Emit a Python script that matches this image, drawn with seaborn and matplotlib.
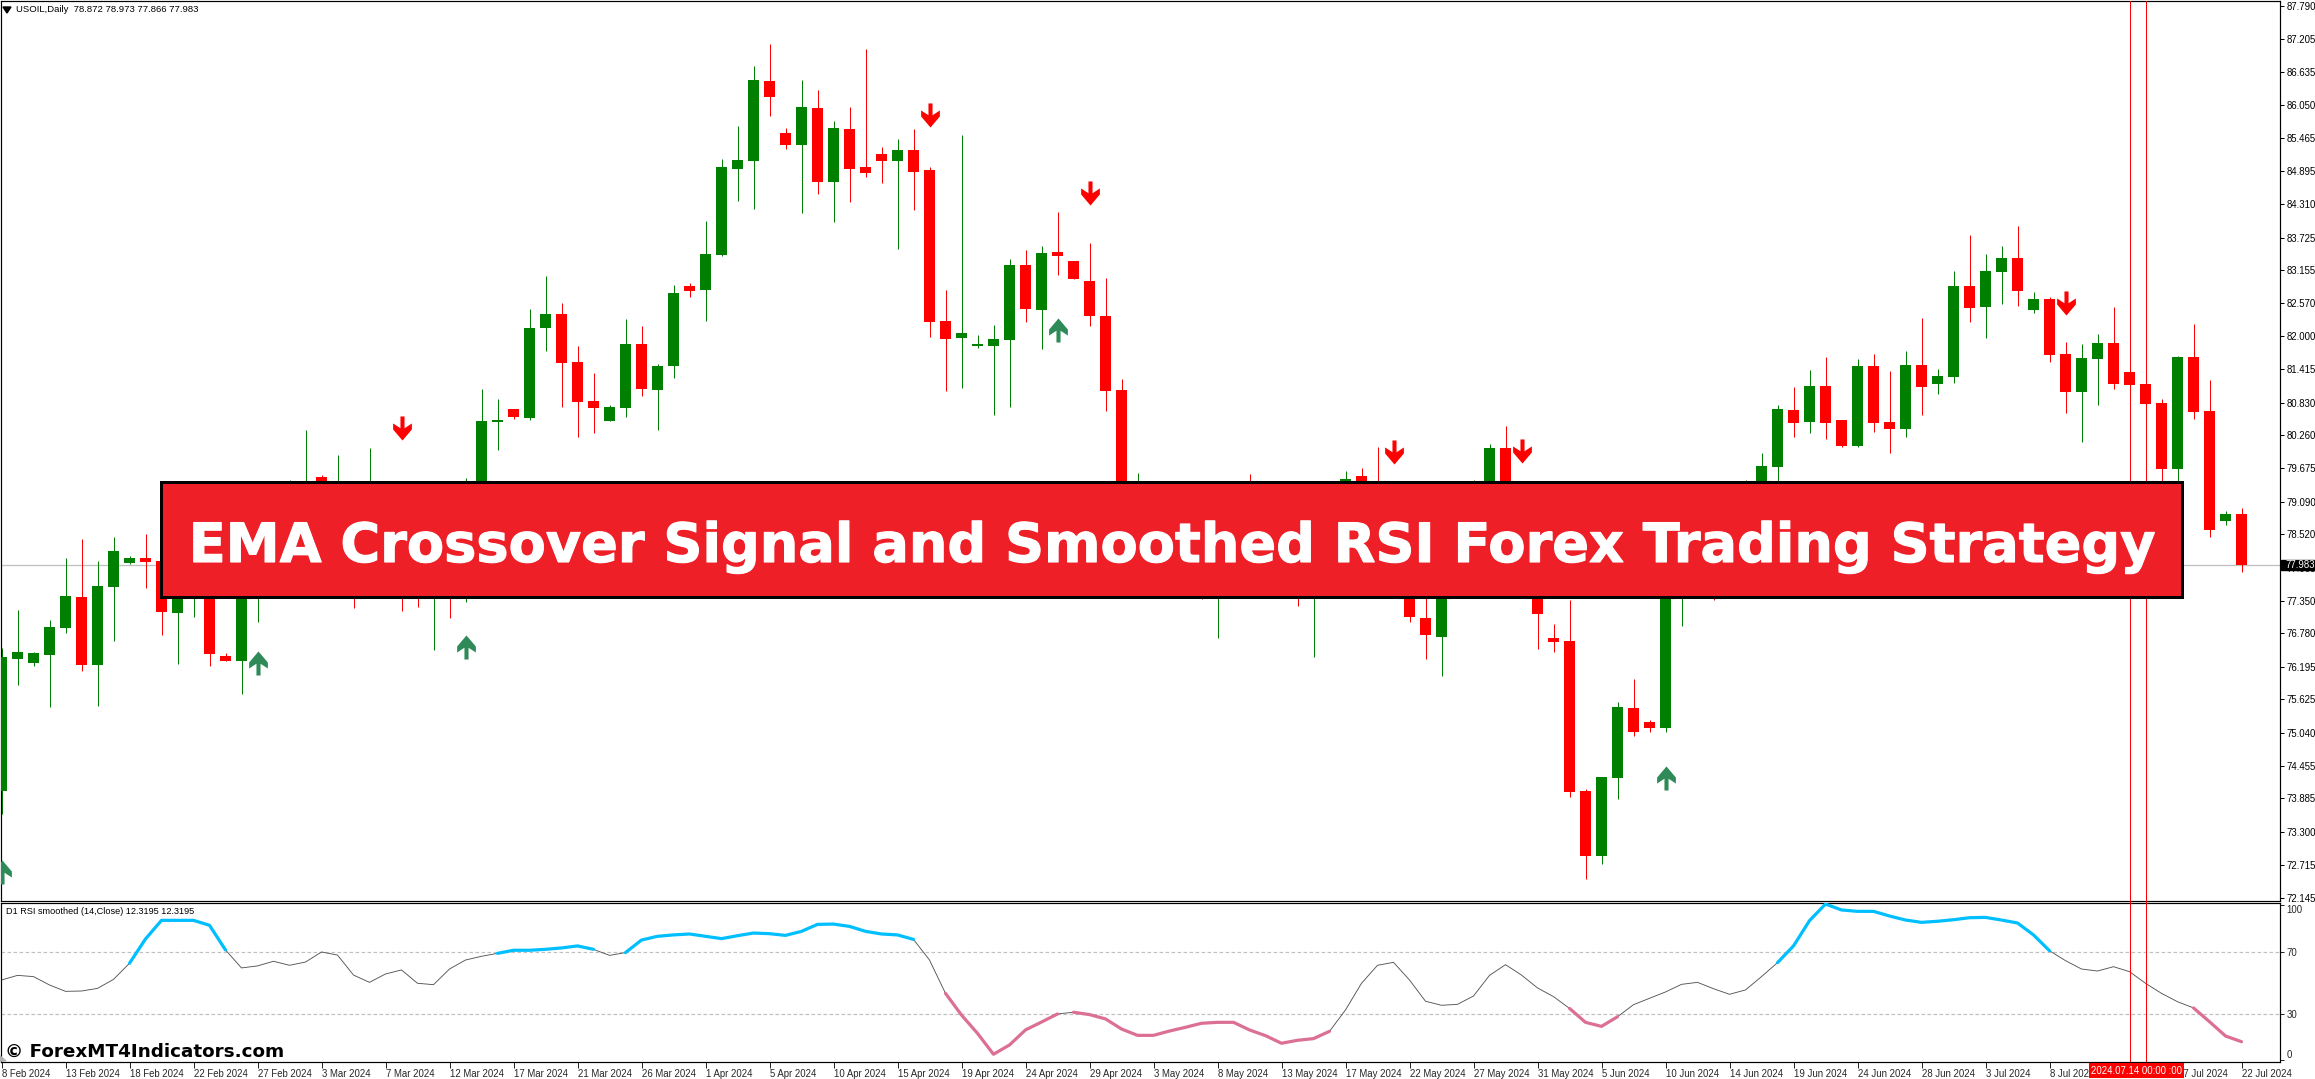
import numpy as np
import pandas as pd
import matplotlib
matplotlib.use("Agg")
import matplotlib.pyplot as plt
import matplotlib.patheffects as pe
from matplotlib.path import Path
from matplotlib.patches import Rectangle
import seaborn as sns

opens = [74.01,76.33,76.26,76.40,76.88,77.42,76.23,77.60,78.01,78.11,78.05,77.14,77.54,77.54,76.38,76.30,77.54,78.07,78.77,78.77,
79.52,78.50,78.94,78.24,78.94,78.59,77.80,77.39,78.15,77.63,78.94,80.49,80.72,80.56,82.14,82.38,81.54,80.86,80.51,80.73,
81.86,81.05,81.47,82.87,82.80,83.42,84.93,85.07,86.47,85.56,85.35,86.00,84.70,85.63,84.96,85.19,85.07,85.26,84.91,82.26,
81.96,81.82,81.82,81.93,83.24,82.45,83.47,83.31,82.96,82.35,81.05,78.07,78.77,78.59,77.98,78.59,77.80,78.77,78.94,78.24,
78.42,78.94,77.89,78.59,78.59,79.54,78.94,78.94,78.07,77.06,76.72,78.07,78.77,79.29,80.03,78.24,77.54,76.70,76.64,74.01,
72.87,74.24,75.47,75.22,75.12,77.71,78.59,78.42,77.63,78.59,79.12,79.70,80.70,80.49,81.12,80.52,80.07,81.47,80.49,80.37,
81.49,81.15,81.28,82.87,82.51,83.12,83.37,82.45,82.65,81.68,81.01,81.59,81.87,81.37,81.15,80.82,79.66,81.63,80.68,78.75,78.872]
highs = [76.52,77.19,76.46,77.01,78.11,78.43,78.05,78.47,78.14,78.52,78.05,78.07,78.42,77.80,76.43,77.63,78.42,79.12,79.47,80.35,
79.56,79.91,79.29,80.03,79.29,79.12,78.42,78.59,78.77,79.51,81.07,80.89,80.72,82.47,83.05,82.58,81.82,81.35,80.79,82.30,
82.17,81.51,82.89,82.93,84.02,85.10,85.68,86.74,87.12,85.65,86.49,86.32,85.77,86.02,87.03,85.31,85.46,85.63,84.96,82.80,
85.53,82.01,82.19,83.35,83.51,83.58,84.17,83.31,83.63,83.02,81.24,79.59,79.12,78.94,79.03,78.94,79.03,79.12,79.57,79.29,
79.29,79.29,79.29,79.38,79.63,79.68,80.05,79.29,78.42,78.59,78.42,79.12,79.47,80.10,80.42,78.77,77.98,76.94,77.36,74.06,
74.26,75.57,75.99,75.27,78.30,78.77,78.94,78.77,78.94,79.47,79.94,80.79,81.10,81.40,81.63,80.52,81.59,81.68,81.38,81.73,
82.31,81.42,83.14,83.77,83.44,83.58,83.93,82.77,82.68,81.89,81.86,82.03,82.51,81.37,81.15,80.89,81.65,82.21,81.22,78.93,78.973]
lows = [73.62,75.88,76.21,75.49,76.79,76.12,75.51,76.65,78.00,77.58,76.75,76.25,77.07,76.21,76.30,75.72,76.98,77.54,78.15,77.89,
77.80,77.54,77.23,77.54,77.45,77.17,77.24,76.49,77.05,77.33,78.42,80.00,80.54,80.52,81.74,80.75,80.22,80.30,80.51,80.58,
80.94,80.35,81.26,82.68,82.26,83.40,84.37,84.23,85.86,85.28,84.16,84.49,84.00,84.35,84.79,84.68,83.52,84.21,81.98,81.03,
81.08,81.79,80.61,80.75,82.24,81.77,83.07,83.00,82.17,80.68,78.07,77.54,77.63,77.54,77.54,77.38,76.70,77.54,77.54,77.63,
77.71,77.26,76.37,78.07,78.00,78.07,77.63,77.54,76.98,76.33,76.03,77.54,78.24,79.12,77.89,77.40,76.50,76.45,73.91,72.47,
72.73,73.87,74.98,75.06,75.06,76.91,77.54,77.36,77.54,77.89,78.94,79.29,80.22,80.30,80.19,80.05,80.05,80.31,79.94,80.22,
80.61,80.98,81.17,82.24,81.96,82.56,82.52,82.40,81.54,80.65,80.14,80.79,81.07,81.14,80.80,79.12,78.77,80.54,78.47,78.68,77.866]
closes = [76.36,76.46,76.43,76.89,77.43,76.23,77.61,78.22,78.10,78.04,77.16,77.80,78.07,76.42,76.30,77.54,78.07,78.77,79.21,79.29,
78.59,79.12,78.07,78.94,77.98,77.89,77.39,78.07,77.54,78.77,80.51,80.52,80.58,82.14,82.38,81.52,80.84,80.73,80.75,81.86,
81.07,81.47,82.75,82.79,83.44,84.96,85.09,86.49,86.19,85.35,86.02,84.70,85.65,84.93,84.86,85.07,85.26,84.87,82.24,81.95,
82.05,81.84,81.95,83.24,82.47,83.45,83.40,83.00,82.35,81.03,78.42,78.77,78.07,77.98,78.59,77.80,78.59,78.07,78.24,78.94,
79.12,77.89,78.94,79.29,79.49,78.59,78.24,78.07,77.07,76.75,78.07,78.77,79.29,80.03,78.24,77.54,77.12,76.63,73.99,72.87,
74.26,75.49,75.05,75.12,78.07,78.42,77.89,77.63,78.59,79.12,79.72,80.72,80.47,81.12,80.47,80.07,81.47,80.47,80.37,81.49,
81.10,81.30,82.87,82.49,83.14,83.37,82.79,82.65,81.66,81.01,81.61,81.87,81.15,81.14,80.80,79.66,81.63,80.66,78.59,78.87,77.983]

rsi_values = [51.6,54.6,53.8,48.4,44.3,44.5,46.2,52.0,62.4,78.1,90.1,90.1,90.1,86.9,71.0,59.4,60.7,63.7,61.1,63.2,
69.7,67.7,54.8,50.1,55.5,58.1,49.5,48.6,58.7,64.5,66.9,68.8,70.8,70.8,71.4,72.3,73.6,71.4,67.5,69.3,
77.4,79.8,80.7,81.3,79.8,78.3,80.2,81.9,81.5,80.4,83.0,87.5,87.7,86.2,83.0,81.3,80.7,77.8,64.5,43.0,
29.0,17.2,3.7,9.7,19.4,24.5,29.7,30.8,29.3,26.5,20.0,15.9,15.9,18.7,21.1,23.7,24.3,24.3,19.4,15.7,
10.8,12.7,13.8,18.5,32.3,49.5,61.1,63.0,51.6,37.9,35.3,35.9,41.3,54.6,61.5,54.8,46.5,40.9,33.3,24.3,
21.7,27.9,35.7,39.8,43.9,48.8,50.1,46.0,42.4,45.2,53.8,62.8,73.6,89.9,100.6,96.8,95.9,95.9,92.9,90.3,
88.8,89.5,90.5,91.8,92.0,90.3,88.4,80.7,70.5,64.1,58.7,57.4,60.2,57.0,49.5,43.0,37.6,33.6,24.7,15.5,11.8]

up_segments = [(8,14),(31,37),(39,57),(111,128)]
down_segments = [(59,66),(67,83),(98,101),(137,140)]

down_signal_bars = [25,58,68,87,95,129]
down_signal_prices = [80.39,85.88,84.50,79.97,79.99,82.57]
up_signal_bars = [0,16,29,66,104]
up_signal_prices = [72.60,76.26,76.54,82.11,74.24]

marked_bars = [133,134]
last_price = 77.983

price_ticks = [87.790,87.205,86.635,86.050,85.465,84.895,84.310,83.725,83.155,82.570,82.000,81.415,80.830,80.260,79.675,
79.090,78.520,77.935,77.350,76.780,76.195,75.625,75.040,74.455,73.885,73.300,72.715,72.145]
date_bars = list(range(0,141,4))
date_labels = ["8 Feb 2024","13 Feb 2024","18 Feb 2024","22 Feb 2024","27 Feb 2024","3 Mar 2024","7 Mar 2024","12 Mar 2024",
"17 Mar 2024","21 Mar 2024","26 Mar 2024","1 Apr 2024","5 Apr 2024","10 Apr 2024","15 Apr 2024","19 Apr 2024","24 Apr 2024",
"29 Apr 2024","3 May 2024","8 May 2024","13 May 2024","17 May 2024","22 May 2024","27 May 2024","31 May 2024","5 Jun 2024",
"10 Jun 2024","14 Jun 2024","19 Jun 2024","24 Jun 2024","28 Jun 2024","3 Jul 2024","8 Jul 2024","","17 Jul 2024","22 Jul 2024"]

W, H = 2315, 1079
PX = 0.72
sns.set_theme(style="white")
plt.rcParams["font.family"] = ["Liberation Sans", "DejaVu Sans"]
plt.rcParams["axes.edgecolor"] = "black"

fig = plt.figure(figsize=(W/100, H/100), dpi=100, facecolor="white")
def axes_px(x0, y0, x1, y1):
    return fig.add_axes([x0/W, 1-y1/H, (x1-x0)/W, (y1-y0)/H])

ax = axes_px(0.5, 1.0, 2279.5, 900.5)
rx = axes_px(0.5, 902.5, 2279.5, 1061.5)
XLIM = (-1/16, 2278/16)
RLIM = ((1060-1061.5)/1.55, (1060-902.5)/1.55)
for a in (ax, rx):
    a.set_xlim(*XLIM)
    a.set_facecolor("white")
    for s in a.spines.values():
        s.set_linewidth(PX*1.2)
        s.set_color("black")
ax.set_ylim(72.095, 87.877)
rx.set_ylim(*RLIM)

df = pd.DataFrame({"bar": np.arange(len(opens)), "open": opens, "high": highs, "low": lows, "close": closes})
df["up"] = df["close"] >= df["open"]
df["color"] = np.where(df["up"], "#008000", "#FF0000")

ax.axhline(last_price, color="#C0C0C0", lw=PX*1.3, zorder=1)

ax.vlines(df["bar"], df["low"], df["high"], colors=df["color"], lw=PX, zorder=2)
bottoms = df[["open", "close"]].min(axis=1)
heights = (df["close"] - df["open"]).abs().clip(lower=0.035)
ax.bar(df["bar"], heights, bottom=bottoms, width=11/16, color=df["color"], linewidth=0, zorder=3)

down_arrow = Path([(-.17,1),(.17,1),(.17,.02),(.78,.42),(.78,-.08),(0,-1),(-.78,-.08),(-.78,.42),(-.17,.02),(-.17,1)], closed=True)
up_arrow = Path([(-.17,-1),(.17,-1),(.17,-.02),(.78,-.42),(.78,.08),(0,1),(-.78,.08),(-.78,-.42),(-.17,-.02),(-.17,-1)], closed=True)
sns.scatterplot(x=down_signal_bars, y=down_signal_prices, marker=down_arrow, s=300, color="#FF0000", linewidth=0, ax=ax, zorder=4)
sns.scatterplot(x=up_signal_bars, y=up_signal_prices, marker=up_arrow, s=300, color="#2E8B57", linewidth=0, ax=ax, zorder=4)

for b in marked_bars:
    ax.axvline(b, ymin=-2.5/899.5, color="#FF0000", lw=PX, zorder=5, clip_on=False)
    rx.axvline(b, color="#FF0000", lw=PX, zorder=5)

ax.set_xlim(*XLIM)
ax.set_ylim(72.095, 87.877)
ax.set_yticks(price_ticks)
ax.set_yticklabels([f"{t:.3f}" for t in price_ticks])
ax.yaxis.tick_right()
ax.tick_params(axis="y", length=3, width=PX, direction="out", pad=2, labelsize=6.9, color="black", labelcolor="black")
ax.tick_params(axis="x", bottom=False, labelbottom=False)

rsi_df = pd.DataFrame({"bar": np.arange(len(rsi_values)), "rsi": rsi_values})
rx.axhline(70, color="#C0C0C0", lw=PX*1.2, ls=(0, (3, 2)), zorder=1)
rx.axhline(30, color="#C0C0C0", lw=PX*1.2, ls=(0, (3, 2)), zorder=1)
sns.lineplot(data=rsi_df, x="bar", y="rsi", color="#555555", lw=PX*0.9, ax=rx, zorder=2, errorbar=None)
def segments_frame(segments):
    frames = []
    for k, (a, b) in enumerate(segments):
        f = rsi_df.iloc[a:b+1].copy()
        f["segment"] = k
        frames.append(f)
    return pd.concat(frames)
sns.lineplot(data=segments_frame(up_segments), x="bar", y="rsi", units="segment", estimator=None,
             color="#00BFFF", lw=PX*3.2, ax=rx, zorder=3)
sns.lineplot(data=segments_frame(down_segments), x="bar", y="rsi", units="segment", estimator=None,
             color="#DB7093", lw=PX*3.2, ax=rx, zorder=3)
rx.set_xlabel(""); rx.set_ylabel("")
rx.set_xlim(*XLIM)
rx.set_ylim(*RLIM)
rx.yaxis.tick_right()
rx.set_yticks([100, 70, 30, 0])
rx.set_yticklabels(["100", "70", "30", "0"])
rx.tick_params(axis="y", length=3, width=PX, direction="out", pad=2, labelsize=6.9)
ylabels = rx.get_yticklabels()
ylabels[0].set_va("top")
ylabels[3].set_va("bottom")
rx.set_xticks(date_bars)
rx.set_xticklabels(date_labels, ha="left")
rx.tick_params(axis="x", length=4, width=PX, direction="out", pad=1.2, labelsize=6.9)
rx.xaxis.tick_bottom()

fig.text(16/W, 1-10/H, "USOIL,Daily  78.872 78.973 77.866 77.983", fontsize=6.8, va="center", ha="left", color="black")
fig.text(5.5/W, 1-911.7/H, "D1 RSI smoothed (14,Close) 12.3195 12.3195", fontsize=6.6, va="center", ha="left", color="black")
fig.patches.append(plt.Polygon([(3/W,1-7/H),(11/W,1-7/H),(7/W,1-13/H)], closed=True, transform=fig.transFigure, color="black", figure=fig))
fig.patches.append(plt.Polygon([(0/W,1-1056/H),(6/W,1-1061/H),(0/W,1-1061/H)], closed=True, transform=fig.transFigure, color="#B0B0B0", figure=fig))

fig.patches.append(Rectangle((2281/W,1-569.5/H),33/W,10/H, transform=fig.transFigure, color="black", figure=fig))
fig.text(2285/W, 1-564.5/H, "77.983", fontsize=6.9, color="white", va="center", ha="left", zorder=6)

fig.text(2136.5/W, 1-1070.5/H, "2024.07.14 00:00 :00", fontsize=6.9, color="white", va="center", ha="center", zorder=8,
         bbox=dict(boxstyle="square,pad=0.25", fc="#FF0000", ec="#FF0000", lw=0))

fig.patches.append(Rectangle((160.5/W,1-597/H),2021/W,115/H, transform=fig.transFigure, fc="#EE1F27", ec="black", lw=PX*3, figure=fig, zorder=10))
t = fig.text(1171/W, 1-562/H, "EMA Crossover Signal and Smoothed RSI Forex Trading Strategy", fontsize=39,
             fontweight="bold", family="DejaVu Sans", color="white", va="baseline", ha="center", zorder=11)
t.set_path_effects([pe.withStroke(linewidth=0.8, foreground="white")])

fig.text(5/W, 1-1057/H, "© ForexMT4Indicators.com", fontsize=13.2, fontweight="bold", family="DejaVu Sans",
         color="black", va="baseline", ha="left", zorder=9)

fig.savefig("out.png", dpi=100, facecolor="white")
